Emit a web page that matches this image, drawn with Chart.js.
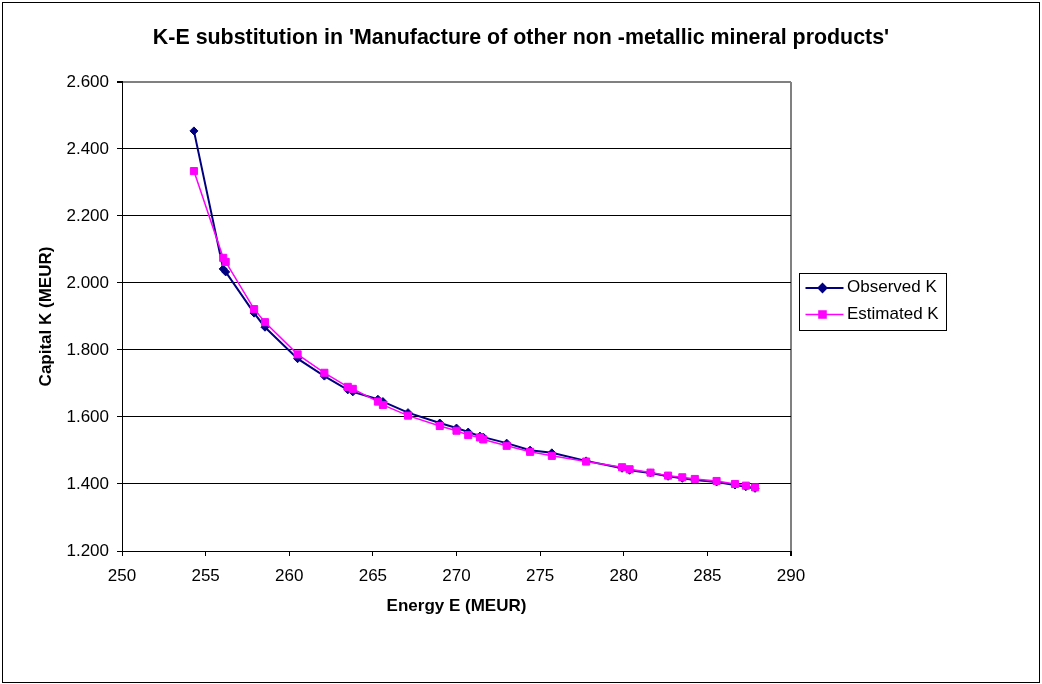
<!DOCTYPE html>
<html>
<head>
<meta charset="utf-8">
<title>K-E substitution</title>
<script src="https://cdn.jsdelivr.net/npm/chart.js@4/dist/chart.umd.min.js"></script>
<style>
  html, body { margin: 0; padding: 0; background: #ffffff; }
  canvas { display: block; }
</style>
</head>
<body>
<canvas id="chart" width="1042" height="684"></canvas>
<script>
// Energy use E (MEUR), one entry per observation
const energy = [254.3, 256.05, 256.2, 257.9, 258.55, 260.5, 262.1, 263.5, 263.8, 265.3,
                265.6, 267.1, 269.0, 270.0, 270.7, 271.4, 271.6, 273.0, 274.4, 275.7,
                277.75, 279.9, 280.35, 281.6, 282.65, 283.5, 284.25, 285.55, 286.65, 287.3, 287.85];

// Capital stock K (MEUR): observed and model estimate
const observedK = [2454, 2042, 2033, 1910, 1868, 1774, 1722, 1681, 1675, 1653,
                   1646, 1613, 1582, 1567, 1555, 1543, 1540, 1522, 1501, 1493,
                   1469, 1447, 1441, 1433, 1423, 1417, 1412, 1406, 1397, 1392, 1387];
const estimatedK = [2334, 2075, 2063, 1922, 1883, 1787, 1732, 1690, 1684, 1646,
                    1636, 1604, 1573, 1559, 1546, 1539, 1533, 1514, 1496, 1484,
                    1467, 1450, 1444, 1434, 1425, 1420, 1415, 1409, 1400, 1395, 1390];

const seriesNames = ['Observed K', 'Estimated K'];
const chartTitle = "K-E substitution in 'Manufacture of other non -metallic mineral products'";
const xAxisTitle = 'Energy E (MEUR)';
const yAxisTitle = 'Capital K (MEUR)';

// Axis ranges
const xMin = 250, xMax = 290, xStep = 5;
const yMin = 1200, yMax = 2600, yStep = 200;

const FONT = "'Liberation Sans', Arial, Helvetica, sans-serif";
Chart.defaults.font.family = FONT;
Chart.defaults.color = '#000000';

const toPoints = (ys) => energy.map((e, i) => ({ x: e, y: ys[i] }));

// European thousands separator: 2600 -> "2.600"
const fmtK = (v) => {
  const s = String(Math.round(v));
  return s.length > 3 ? s.slice(0, s.length - 3) + '.' + s.slice(-3) : s;
};

// White page, outer frame and the boxed legend on the right
const decorations = {
  id: 'decorations',
  beforeDraw(chart) {
    const ctx = chart.ctx;
    ctx.save();
    ctx.fillStyle = '#ffffff';
    ctx.fillRect(0, 0, chart.width, chart.height);
    ctx.restore();
  },
  afterDraw(chart) {
    const ctx = chart.ctx;
    ctx.save();
    ctx.strokeStyle = '#000000';
    ctx.lineWidth = 1;
    ctx.strokeRect(2.5, 2.5, chart.width - 5, chart.height - 4);

    const box = { x: 799.5, y: 273.5, w: 147, h: 57 };
    ctx.strokeRect(box.x, box.y, box.w, box.h);
    ctx.font = '17px ' + FONT;
    ctx.textBaseline = 'middle';
    ctx.textAlign = 'left';
    chart.data.datasets.forEach((ds, i) => {
      const y = box.y + 14.5 + i * 26.5;
      ctx.strokeStyle = ds.borderColor;
      ctx.lineWidth = ds.borderWidth;
      ctx.beginPath();
      ctx.moveTo(box.x + 6, y);
      ctx.lineTo(box.x + 44, y);
      ctx.stroke();
      ctx.fillStyle = ds.pointBackgroundColor;
      ctx.strokeStyle = ds.pointBorderColor;
      Chart.helpers.drawPoint(ctx, {
        pointStyle: ds.pointStyle, rotation: 0,
        radius: ds.pointRadius, borderWidth: ds.pointBorderWidth
      }, box.x + 23, y);
      ctx.fillStyle = '#000000';
      ctx.fillText(ds.label, box.x + 47.5, y - 0.5);
    });
    ctx.restore();
  }
};

new Chart(document.getElementById('chart'), {
  type: 'scatter',
  data: {
    datasets: [
      {
        label: seriesNames[0],
        data: toPoints(observedK),
        showLine: true,
        borderColor: '#000080',
        borderWidth: 2,
        pointStyle: 'rectRot',
        pointRadius: 4,
        pointBorderWidth: 1,
        pointBackgroundColor: '#000080',
        pointBorderColor: '#000080',
        order: 2
      },
      {
        label: seriesNames[1],
        data: toPoints(estimatedK),
        showLine: true,
        borderColor: '#ff00ff',
        borderWidth: 1.5,
        pointStyle: 'rect',
        pointRadius: 5,
        pointBorderWidth: 1,
        pointBackgroundColor: '#ff00ff',
        pointBorderColor: '#ff00ff',
        order: 1
      }
    ]
  },
  options: {
    responsive: false,
    animation: false,
    events: [],
    layout: { padding: 0 },
    plugins: {
      legend: { display: false },
      tooltip: { enabled: false },
      title: {
        display: true,
        text: chartTitle,
        color: '#000000',
        font: { size: 21.4, weight: 'bold' },
        padding: { top: 25.2, bottom: 31.1 }
      }
    },
    scales: {
      x: {
        type: 'linear',
        position: 'bottom',
        min: xMin, max: xMax,
        ticks: { stepSize: xStep, padding: 10, color: '#000000', font: { size: 17 } },
        grid: {
          color: (c) => (c.tick && c.tick.value === xMax) ? '#808080' : 'rgba(0,0,0,0)',
          lineWidth: (c) => (c.tick && c.tick.value === xMax) ? 2 : 1,
          tickColor: '#000000',
          tickLength: 5,
          drawTicks: true
        },
        border: { display: true, color: '#000000', width: 1 },
        title: {
          display: true, text: xAxisTitle, color: '#000000',
          font: { size: 17, weight: 'bold' },
          padding: { top: 0, bottom: 67 }
        },
        afterFit(scale) { scale.height = 133; }
      },
      y: {
        type: 'linear',
        position: 'left',
        min: yMin, max: yMax,
        ticks: { stepSize: yStep, padding: 8, color: '#000000', font: { size: 17 }, callback: (v) => fmtK(v) },
        grid: {
          color: (c) => (c.tick && c.tick.value === yMax) ? '#808080' : '#000000',
          lineWidth: (c) => (c.tick && c.tick.value === yMax) ? 2 : 1,
          tickColor: '#000000',
          tickLength: 5,
          drawTicks: true
        },
        border: { display: true, color: '#000000', width: 1 },
        title: {
          display: true, text: yAxisTitle, color: '#000000',
          font: { size: 17, weight: 'bold' },
          padding: { top: 36, bottom: 0 }
        },
        afterFit(scale) { scale.width = 122; }
      },
      // empty right-hand band that leaves room for the legend box
      legendSpace: {
        type: 'linear',
        position: 'right',
        display: true,
        ticks: { display: false },
        grid: { display: false, drawTicks: false },
        border: { display: false },
        afterFit(scale) { scale.width = 251; }
      }
    }
  },
  plugins: [decorations]
});
</script>
</body>
</html>
